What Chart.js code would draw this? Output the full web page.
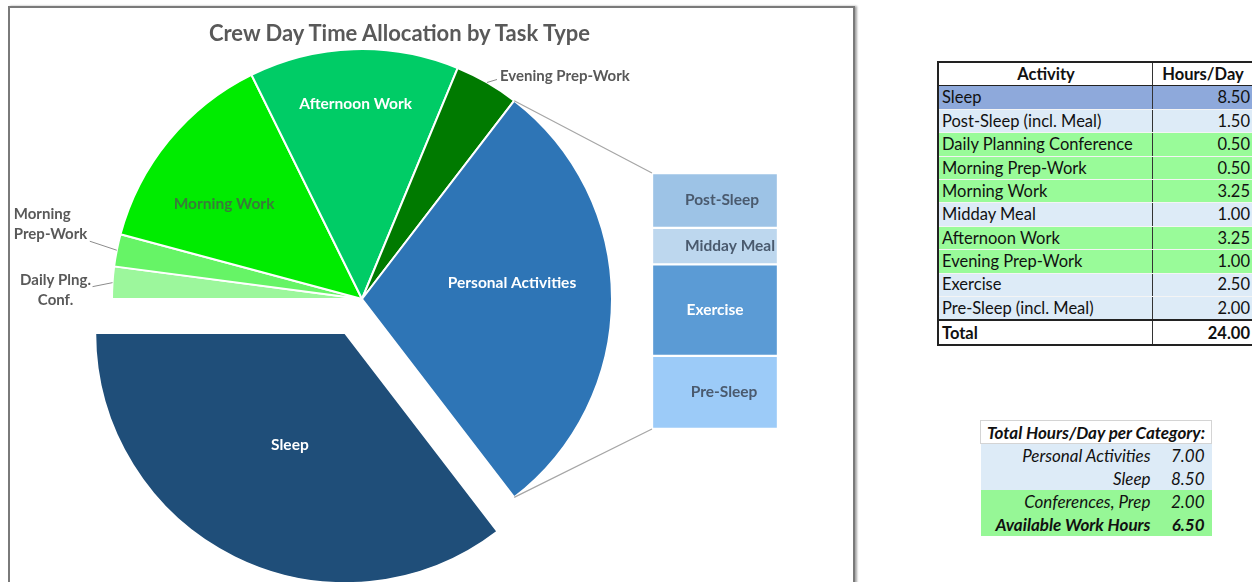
<!DOCTYPE html>
<html>
<head>
<meta charset="utf-8">
<title>Crew Day Time Allocation</title>
<script src="https://cdn.jsdelivr.net/npm/chart.js@4.4.1/dist/chart.umd.min.js"></script>
<style>
    html, body { margin: 0; padding: 0; background: #fff; overflow: hidden; }
    body { position: relative; width: 1252px; height: 582px; font-family: Lato, 'Open Sans', sans-serif; }

    /* chart frame */
    #frame {
        position: absolute; left: 8px; top: 6px; width: 843px; height: 600px;
        border: 2px solid #7a7a7a; box-shadow: 2px 0 2px rgba(0, 0, 0, 0.35);
    }
    #pieCanvas { position: absolute; left: 0; top: 0; }
    #barCanvas { position: absolute; left: 642px; top: 165px; }
    #chartTitle {
        position: absolute; left: 0; top: 11px; width: 779px; text-align: center;
        font: bold 22px Lato, sans-serif; color: #595959;
    }

    /* activity table */
    #activityTable {
        position: absolute; left: 937px; top: 61px; width: 316px;
        border-collapse: collapse; font-size: 16.5px; color: #111;
        border-top: 2px solid #222; border-left: 2px solid #222;
    }
    #activityTable th, #activityTable td {
        height: 22.4px; padding: 0 2px 0 3px; line-height: 1; white-space: nowrap;
        border-bottom: 1px solid #f4f4f4; border-right: 1px solid #333;
    }
    #activityTable th { font-weight: bold; text-align: center; border-bottom: 1px solid #222; background: #fff; }
    #activityTable td.num { text-align: right; }
    #activityTable tr.total td { font-weight: bold; border-top: 2px solid #222; border-bottom: 2px solid #222; background: #fff; height: 23px; }

    /* category summary */
    #catTable {
        position: absolute; left: 980px; top: 420px; width: 232px;
        border-collapse: collapse; font-size: 17px; font-style: italic; color: #111;
    }
    #catTable th {
        font-weight: bold; text-align: center; height: 22px; padding: 0; white-space: nowrap;
        border: 1px solid #d4d4d4; background: #fff;
    }
    #catTable td { height: 23px; padding: 0; text-align: right; line-height: 1; white-space: nowrap; }
    #catTable td.lbl { padding-right: 10px; }
    #catTable td.num { padding-right: 7px; width: 44px; }
    #catTable tr.bold td { font-weight: bold; }
</style>
</head>
<body>
<div id="frame">
    <canvas id="pieCanvas" width="843" height="574"></canvas>
    <canvas id="barCanvas" width="126" height="256"></canvas>
    <div id="chartTitle">Crew Day Time Allocation by Task Type</div>
</div>
<table id="activityTable"></table>
<table id="catTable"></table>

<script>
/* ---- data ---- */
// main pie, clockwise from 9 o'clock
const pieLabels = ['Daily Plng.\nConf.', 'Morning\nPrep-Work', 'Morning Work', 'Afternoon Work', 'Evening Prep-Work', 'Personal Activities', 'Sleep'];
const pieValues = [0.5, 0.5, 3.25, 3.25, 1.0, 7.0, 8.5];

// breakdown of Personal Activities (top to bottom)
const barLabels = ['Post-Sleep', 'Midday Meal', 'Exercise', 'Pre-Sleep'];
const barValues = [1.5, 1.0, 2.5, 2.0];

// table
const activities = ['Sleep', 'Post-Sleep (incl. Meal)', 'Daily Planning Conference', 'Morning Prep-Work', 'Morning Work',
    'Midday Meal', 'Afternoon Work', 'Evening Prep-Work', 'Exercise', 'Pre-Sleep (incl. Meal)'];
const activityHours = [8.5, 1.5, 0.5, 0.5, 3.25, 1.0, 3.25, 1.0, 2.5, 2.0];
const activityGroup = ['sleep', 'personal', 'prep', 'prep', 'work', 'personal', 'work', 'prep', 'personal', 'personal'];

const categoryLabels = ['Personal Activities', 'Sleep', 'Conferences, Prep', 'Available Work Hours'];
const categoryGroups = ['personal', 'sleep', 'prep', 'work'];

/* ---- styles ---- */
const pieColors = ['#9CF79C', '#66F466', '#00EC00', '#00CC66', '#007A00', '#2E75B6', '#1F4E79'];
const barColors = ['#9DC3E6', '#BDD7EE', '#5B9BD5', '#9CCBF8'];
const barTextColors = ['#4A5A6E', '#4A5A6E', '#FFFFFF', '#4A5A6E'];
const barTextShift = [7, 15, 0, 9];
const rowColors = { sleep: '#8EA9DB', personal: '#DDEBF7', prep: '#99FB99', work: '#99FB99' };
const catRowColors = { sleep: '#DDEBF7', personal: '#DDEBF7', prep: '#96F796', work: '#96F796' };

const SLEEP_IDX = 6;
const PERSONAL_IDX = 5;
const EXPLODE = 38;         // sleep slice pulled out
const PIE_RADIUS = 250;
const BAR_LEFT = 642, BAR_TOP = 165;   // bar canvas offset inside the frame

// label placement: inside labels use a radius fraction, outside ones sit off the arc edge
const pieLabelStyle = [
    { outside: true, align: 'center', tx: -57, ty: 8, lx: -20, ly: 4 },
    { outside: true, align: 'left', tx: -103, ty: -26, lx: -27, ly: -9 },
    { r: 0.6, dx: -22, dy: 0, color: '#3A7A3A' },
    { r: 0.78, dx: 0, dy: 0, color: '#FFFFFF' },
    { outside: true, align: 'left', tx: 13, ty: -6, lx: 10, ly: -3 },
    { r: 0.6, dx: 0, dy: -16, color: '#FFFFFF' },
    { r: 0.5, dx: 0, dy: 0, color: '#FFFFFF' }
];

/* ---- Personal Activities breakdown (stacked column) ---- */
const barChart = new Chart(document.getElementById('barCanvas'), {
    type: 'bar',
    data: {
        labels: [''],
        datasets: barLabels.map((name, i) => ({
            label: name,
            data: [barValues[i]],
            backgroundColor: barColors[i],
            borderColor: '#fff',
            borderWidth: 1.5,
            borderSkipped: false,
            categoryPercentage: 1,
            barPercentage: 1
        }))
    },
    options: {
        responsive: false,
        animation: false,
        events: [],
        layout: { padding: 0 },
        plugins: { legend: { display: false }, tooltip: { enabled: false } },
        scales: {
            x: { stacked: true, display: false },
            y: { stacked: true, display: false, reverse: true, min: 0, max: barValues.reduce((a, b) => a + b, 0) }
        }
    },
    plugins: [{
        id: 'barText',
        afterDatasetsDraw(chart) {
            const ctx = chart.ctx;
            ctx.save();
            ctx.font = 'bold 15.5px Lato, sans-serif';
            ctx.textAlign = 'center';
            ctx.textBaseline = 'middle';
            chart.data.datasets.forEach((ds, i) => {
                const el = chart.getDatasetMeta(i).data[0];
                ctx.fillStyle = barTextColors[i];
                ctx.fillText(ds.label, el.x + barTextShift[i], (el.y + el.base) / 2);
            });
            ctx.restore();
        }
    }]
});

/* ---- pie helpers ---- */
const explodePlugin = {
    id: 'explode',
    afterDatasetsUpdate(chart) {
        const el = chart.getDatasetMeta(0).data[SLEEP_IDX];
        const mid = (el.startAngle + el.endAngle) / 2;
        el.x += Math.cos(mid) * EXPLODE;
        el.y += Math.sin(mid) * EXPLODE;
    }
};

const pieLabelPlugin = {
    id: 'pieLabels',
    afterDatasetsDraw(chart) {
        const ctx = chart.ctx;
        const arcs = chart.getDatasetMeta(0).data;

        // connector lines to the breakdown column
        const first = barChart.getDatasetMeta(0).data[0];
        const last = barChart.getDatasetMeta(barValues.length - 1).data[0];
        const bx = BAR_LEFT + first.x - first.width / 2;
        const byTop = BAR_TOP + Math.min(first.y, first.base);
        const byBot = BAR_TOP + Math.max(last.y, last.base);
        const pa = arcs[PERSONAL_IDX];
        ctx.save();
        ctx.strokeStyle = '#A6A6A6';
        ctx.lineWidth = 1.2;
        ctx.beginPath();
        ctx.moveTo(pa.x + Math.cos(pa.startAngle) * pa.outerRadius, pa.y + Math.sin(pa.startAngle) * pa.outerRadius);
        ctx.lineTo(bx, byTop);
        ctx.moveTo(pa.x + Math.cos(pa.endAngle) * pa.outerRadius, pa.y + Math.sin(pa.endAngle) * pa.outerRadius);
        ctx.lineTo(bx, byBot);
        ctx.stroke();

        ctx.textBaseline = 'middle';
        arcs.forEach((el, i) => {
            const st = pieLabelStyle[i];
            const mid = (el.startAngle + el.endAngle) / 2;
            const lines = pieLabels[i].split('\n');
            if (st.outside) {
                const ex = el.x + Math.cos(mid) * el.outerRadius;
                const ey = el.y + Math.sin(mid) * el.outerRadius;
                ctx.strokeStyle = '#8C8C8C';
                ctx.lineWidth = 1;
                ctx.beginPath();
                ctx.moveTo(ex, ey);
                ctx.lineTo(ex + st.lx, ey + st.ly);
                ctx.stroke();
                ctx.font = 'bold 15px Lato, sans-serif';
                ctx.fillStyle = '#595959';
                ctx.textAlign = st.align;
                const lh = 20;
                const y0 = ey + st.ty - (lines.length - 1) * lh / 2;
                lines.forEach((t, k) => ctx.fillText(t, ex + st.tx, y0 + k * lh));
            } else {
                const r = el.outerRadius * st.r;
                ctx.font = 'bold 15.5px Lato, sans-serif';
                ctx.fillStyle = st.color;
                ctx.textAlign = 'center';
                ctx.fillText(lines[0], el.x + Math.cos(mid) * r + st.dx, el.y + Math.sin(mid) * r + st.dy);
            }
        });
        ctx.restore();
    }
};

/* ---- main pie ---- */
new Chart(document.getElementById('pieCanvas'), {
    type: 'pie',
    data: {
        labels: pieLabels,
        datasets: [{
            data: pieValues,
            backgroundColor: pieColors,
            borderColor: '#fff',
            borderWidth: 2,
            radius: PIE_RADIUS,
            clip: false
        }]
    },
    options: {
        responsive: false,
        animation: false,
        events: [],
        rotation: -90,
        layout: { padding: { left: 0, right: 139, top: 40, bottom: 32 } },
        plugins: { legend: { display: false }, tooltip: { enabled: false } }
    },
    plugins: [explodePlugin, pieLabelPlugin]
});

/* ---- tables ---- */
const fmt = v => v.toFixed(2);
const total = activityHours.reduce((a, b) => a + b, 0);

let html = '<tr><th style="width:208px">Activity</th><th>Hours/Day</th></tr>';
activities.forEach((name, i) => {
    const bg = rowColors[activityGroup[i]];
    html += `<tr style="background:${bg}"><td>${name}</td><td class="num">${fmt(activityHours[i])}</td></tr>`;
});
html += `<tr class="total"><td>Total</td><td class="num">${fmt(total)}</td></tr>`;
document.getElementById('activityTable').innerHTML = html;

let cat = '<tr><th colspan="2">Total Hours/Day per Category:</th></tr>';
categoryLabels.forEach((name, i) => {
    const g = categoryGroups[i];
    const sum = activityHours.reduce((s, h, k) => s + (activityGroup[k] === g ? h : 0), 0);
    const cls = i === categoryLabels.length - 1 ? ' class="bold"' : '';
    cat += `<tr${cls} style="background:${catRowColors[g]}"><td class="lbl">${name}</td><td class="num">${fmt(sum)}</td></tr>`;
});
document.getElementById('catTable').innerHTML = cat;
</script>
</body>
</html>
